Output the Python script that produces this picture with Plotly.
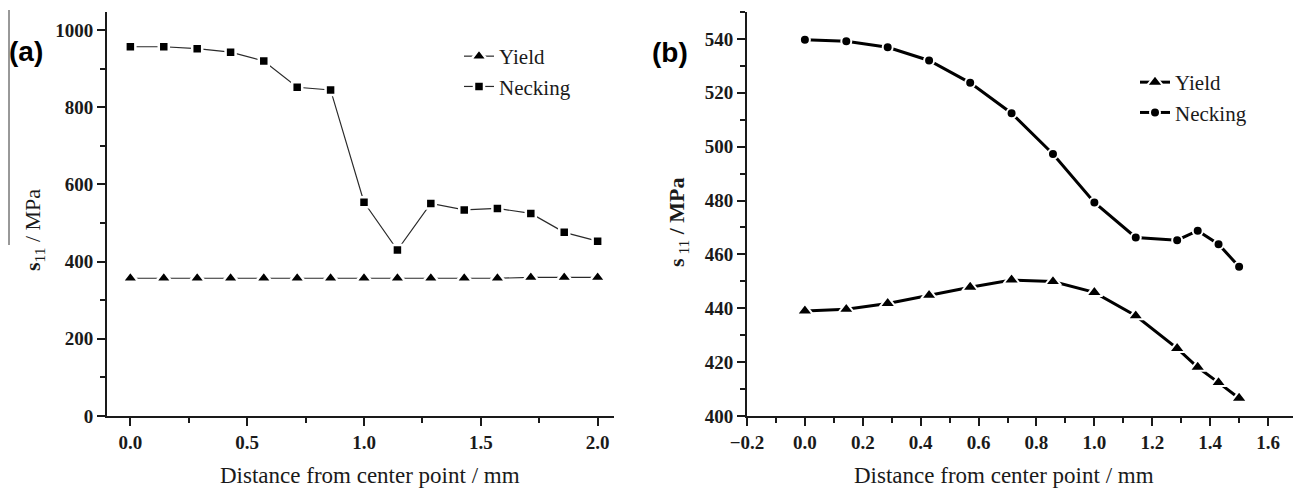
import plotly.graph_objects as go

# ---------------- data ----------------
x_a = [0.0, 0.143, 0.286, 0.429, 0.571, 0.714, 0.857, 1.0, 1.143, 1.286, 1.429, 1.571, 1.714, 1.857, 2.0]
yield_a = [357, 357, 357, 357, 357, 357, 357, 357, 357, 357, 357, 357, 359, 359, 359]
necking_a = [957, 957, 952, 943, 920, 852, 845, 554, 430, 551, 534, 538, 525, 476, 453]

x_b = [0.0, 0.143, 0.286, 0.429, 0.571, 0.714, 0.857, 1.0, 1.143, 1.286, 1.357, 1.429, 1.5]
yield_b = [439.0, 439.6, 441.8, 444.8, 447.8, 450.5, 449.9, 445.9, 437.2, 425.1, 418.1, 412.4, 406.6]
necking_b = [539.7, 539.1, 536.9, 532.0, 523.7, 512.4, 497.3, 479.3, 466.3, 465.3, 468.8, 463.8, 455.4]

series_names = ["Yield", "Necking"]
x_title = "Distance from center point / mm"
panel_labels = ["(a)", "(b)"]

# the page body has an 8px margin, so the figure is placed at (8, 8) in the window
OFF = 8
W, H = 1301 - OFF, 489 - OFF


def px_x(p):
    return (p - OFF) / W


def px_y(p):
    return 1 - (p - OFF) / H


fig = go.Figure()

# panel (a)
fig.add_trace(go.Scatter(
    x=x_a, y=yield_a, name=series_names[0], mode="lines+markers",
    line=dict(color="#2a2a2a", width=1.2),
    marker=dict(symbol="triangle-up", size=14, color="black", line=dict(color="white", width=2.5)),
    xaxis="x", yaxis="y", legend="legend"))
fig.add_trace(go.Scatter(
    x=x_a, y=necking_a, name=series_names[1], mode="lines+markers",
    line=dict(color="#2a2a2a", width=1.2),
    marker=dict(symbol="square", size=10, color="black", line=dict(color="white", width=2.5)),
    xaxis="x", yaxis="y", legend="legend"))

# panel (b)
fig.add_trace(go.Scatter(
    x=x_b, y=yield_b, name=series_names[0], mode="lines+markers",
    line=dict(color="black", width=3),
    marker=dict(symbol="triangle-up", size=14, color="black", line=dict(color="white", width=2)),
    xaxis="x2", yaxis="y2", legend="legend2"))
fig.add_trace(go.Scatter(
    x=x_b, y=necking_b, name=series_names[1], mode="lines+markers",
    line=dict(color="black", width=3),
    marker=dict(symbol="circle", size=10, color="black", line=dict(color="white", width=2)),
    xaxis="x2", yaxis="y2", legend="legend2"))


def axis(**kw):
    d = dict(showline=True, linewidth=2, linecolor="#1a1a1a", showgrid=False, zeroline=False,
             ticks="outside", ticklen=8, tickwidth=2, tickcolor="#1a1a1a", automargin=False,
             tickfont=dict(family="Liberation Serif", size=19, color="#1a1a1a", weight="bold"))
    d.update(kw)
    return d


def minor(dt):
    return dict(dtick=dt, ticklen=5, tickwidth=1.5, ticks="outside", tickcolor="#1a1a1a")


fig.update_layout(
    template="none",
    width=W, height=H,
    margin=dict(l=0, r=0, t=0, b=0, pad=0, autoexpand=False),
    paper_bgcolor="white", plot_bgcolor="white",
    xaxis=axis(domain=[px_x(107), px_x(614)], range=[-0.1, 2.07], dtick=0.5, tick0=0, tickformat=".1f",
               anchor="y", minor=minor(0.25)),
    yaxis=axis(domain=[px_y(416), px_y(12)], range=[0, 1047], dtick=200, tick0=0,
               anchor="x", minor=minor(100)),
    xaxis2=axis(domain=[px_x(747), px_x(1297)], range=[-0.2, 1.7], dtick=0.2, tick0=0, tickformat=".1f",
                anchor="y2", minor=minor(0.1)),
    yaxis2=axis(domain=[px_y(416), px_y(12)], range=[400, 550], dtick=20, tick0=0,
                anchor="x2", minor=minor(10)),
    legend=dict(x=px_x(459), y=px_y(36), xanchor="left", yanchor="top",
                font=dict(family="Liberation Serif", size=21, color="#1a1a1a"),
                bgcolor="rgba(0,0,0,0)", borderwidth=0, tracegroupgap=0),
    legend2=dict(x=px_x(1135), y=px_y(62), xanchor="left", yanchor="top",
                 font=dict(family="Liberation Serif", size=21, color="#1a1a1a"),
                 bgcolor="rgba(0,0,0,0)", borderwidth=0, tracegroupgap=0),
    showlegend=True,
)

annotations = [
    dict(text=f"<b>{panel_labels[0]}</b>", x=px_x(26), y=px_y(51), font=dict(family="Liberation Sans", size=28, color="black")),
    dict(text=f"<b>{panel_labels[1]}</b>", x=px_x(670), y=px_y(52), font=dict(family="Liberation Sans", size=28, color="black")),
    dict(text=x_title, x=px_x(370), y=px_y(475), font=dict(family="Liberation Serif", size=23, color="#1a1a1a")),
    dict(text=x_title, x=px_x(1004), y=px_y(475), font=dict(family="Liberation Serif", size=23, color="#1a1a1a")),
    dict(text="<b>s</b><sub>11</sub> / MPa", x=px_x(34), y=px_y(230), textangle=-90,
         font=dict(family="Liberation Serif", size=22, color="#1a1a1a")),
    dict(text="<b>s</b><sub> 11</sub><b> / MPa</b>", x=px_x(678), y=px_y(222), textangle=-90,
         font=dict(family="Liberation Serif", size=22, color="#1a1a1a")),
]
for a in annotations:
    a.update(xref="paper", yref="paper", showarrow=False, xanchor="center", yanchor="middle")
fig.update_layout(annotations=annotations)

# thin stray vertical rule at the left edge of panel (a)
fig.add_shape(type="line", xref="paper", yref="paper", x0=px_x(9), x1=px_x(9), y0=px_y(10), y1=px_y(245),
              line=dict(color="#333333", width=1))

fig.write_html("out.html")
